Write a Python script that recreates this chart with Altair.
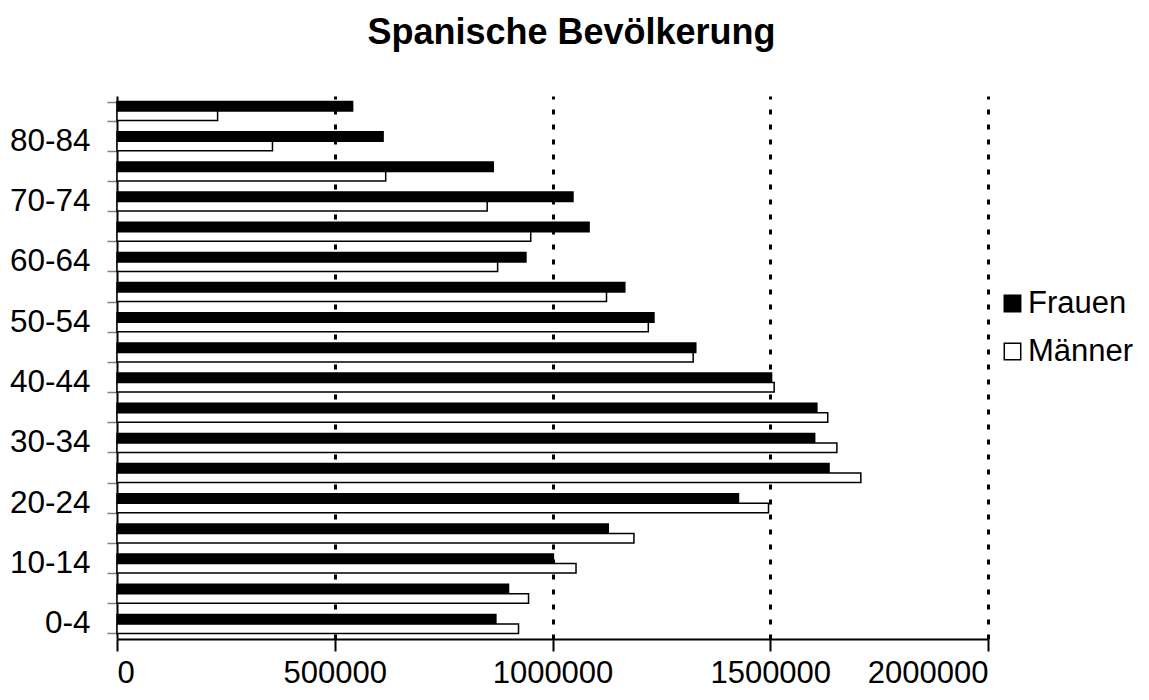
import altair as alt
import pandas as pd

age_groups = ["0-4", "5-9", "10-14", "15-19", "20-24", "25-29", "30-34", "35-39",
              "40-44", "45-49", "50-54", "55-59", "60-64", "65-69", "70-74",
              "75-79", "80-84", "85+"]
frauen = [870000, 899000, 1002000, 1128000, 1427000, 1635000, 1602000, 1607000,
          1503000, 1329000, 1233000, 1166000, 939000, 1084000, 1047000,
          864000, 611000, 541000]
maenner = [922000, 945000, 1054000, 1187000, 1496000, 1708000, 1653000, 1632000,
           1509000, 1323000, 1220000, 1124000, 874000, 950000, 850000,
           617000, 357000, 231000]
series = ["Frauen", "Männer"]
shown_labels = ["0-4", "10-14", "20-24", "30-34", "40-44", "50-54", "60-64", "70-74", "80-84"]
x_ticks = [0, 500000, 1000000, 1500000, 2000000]

rows = []
for i, a in enumerate(age_groups):
    rows.append({"Alter": a, "Geschlecht": series[0], "Wert": frauen[i]})
    rows.append({"Alter": a, "Geschlecht": series[1], "Wert": maenner[i]})
df = pd.DataFrame(rows)

label_list = ",".join("'" + s + "'" for s in shown_labels)
label_expr = f"indexof([{label_list}], datum.label) >= 0 ? datum.label : ''"

FONT = "Liberation Sans"

chart = alt.Chart(df).mark_bar(stroke="black", strokeWidth=1.5).encode(
    x=alt.X("Wert:Q",
            scale=alt.Scale(domain=[0, 2000000], nice=False),
            axis=alt.Axis(values=x_ticks, format="d", title=None,
                          labelFontSize=31, labelFont=FONT, labelColor="black",
                          tickSize=12, tickWidth=2, tickColor="black",
                          domainColor="black", domainWidth=2,
                          labelPadding=7,
                          grid=True, gridColor="black", gridWidth=3,
                          gridDash=[5, 10],
                          gridOpacity=alt.ExprRef("datum.value == 0 ? 0 : 1"))),
    y=alt.Y("Alter:N", sort=list(reversed(age_groups)),
            scale=alt.Scale(paddingInner=0.37, paddingOuter=0.185),
            axis=alt.Axis(title=None, labelExpr=label_expr, labelFontSize=31.5,
                          labelFont=FONT, labelColor="black",
                          tickBand="extent", tickSize=10, tickColor="#808080",
                          tickWidth=1.5, domainColor="black", domainWidth=2,
                          labelPadding=17, grid=False)),
    yOffset=alt.YOffset("Geschlecht:N", sort=series,
                        scale=alt.Scale(paddingInner=0, paddingOuter=0)),
    color=alt.Color("Geschlecht:N", sort=series,
                    scale=alt.Scale(domain=series, range=["black", "white"]),
                    legend=alt.Legend(title=None, orient="none",
                                      legendX=880, legendY=192,
                                      labelFontSize=31, labelFont=FONT,
                                      labelColor="black",
                                      symbolType="square", symbolSize=270,
                                      symbolStrokeColor="black",
                                      symbolStrokeWidth=1.5,
                                      labelOffset=0, rowPadding=16)),
).properties(
    width=871,
    height=543,
    title=alt.TitleParams("Spanische Bevölkerung", font=FONT, fontSize=36,
                          fontWeight="bold", color="black", anchor="middle",
                          frame="group", dx=19, offset=28),
    padding={"left": 109, "top": 88, "right": 153, "bottom": 53},
    autosize=alt.AutoSizeParams(type="none"),
).configure_view(stroke=None)

chart.save("out.html", embed_options={"renderer": "svg", "actions": False})
